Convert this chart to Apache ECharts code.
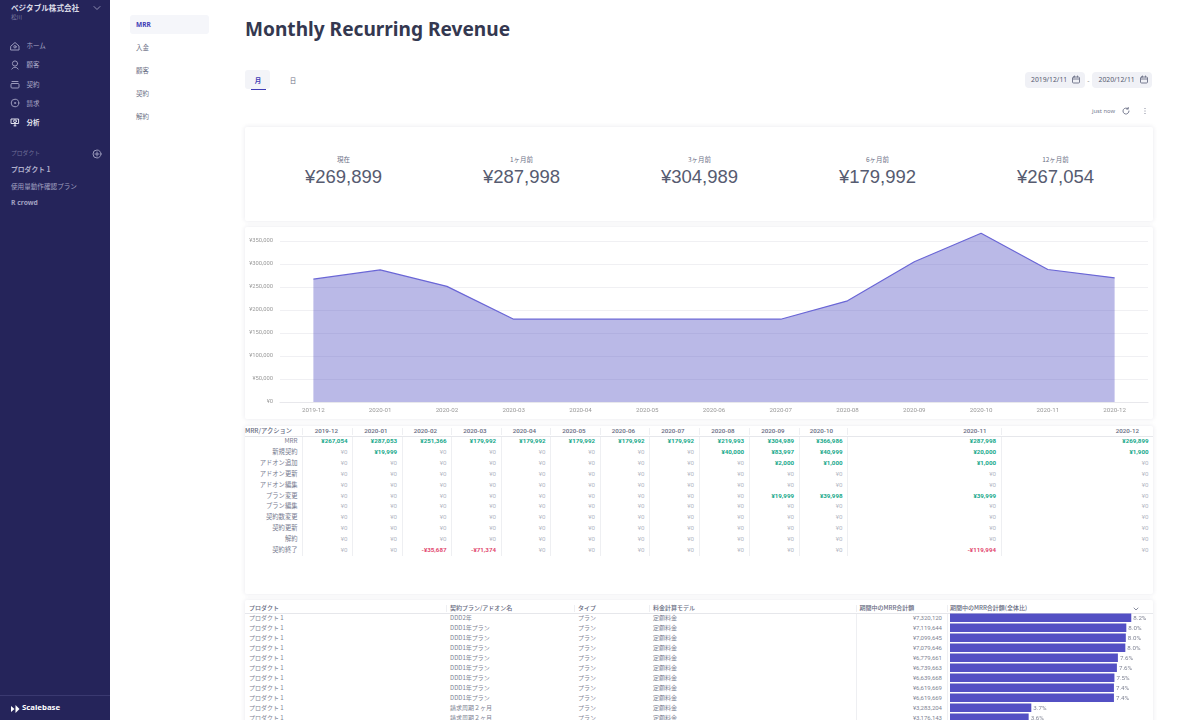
<!DOCTYPE html>
<html>
<head>
<meta charset="utf-8">
<title>Monthly Recurring Revenue</title>
<script src="https://cdn.jsdelivr.net/npm/echarts@6/dist/echarts.min.js"></script>
<style>
html, body { margin: 0; padding: 0; width: 1200px; height: 720px; overflow: hidden; background: #fff; font-family: "Noto Sans CJK JP", "Noto Sans", sans-serif; }
#page { position: relative; width: 1200px; height: 720px; overflow: hidden; }
#sidebar { position: absolute; left: 0; top: 0; width: 110px; height: 720px; background: #25245a; }
.card { position: absolute; left: 245px; width: 908px; background: #fff; border-radius: 2px; box-shadow: 0 0 5px rgba(40, 40, 80, .11); }
.t { position: absolute; white-space: nowrap; line-height: 1; transform: translateY(-50%); }
.r { transform: translate(-100%, -50%); }
.c { transform: translate(-50%, -50%); }
.vline { position: absolute; width: 1px; background: #eeeff2; }
.hline { position: absolute; height: 1px; background: #e6e7eb; }
.pill { position: absolute; top: 72px; width: 60px; height: 16px; border-radius: 4px; background: #f0f1f6; }
svg { position: absolute; overflow: visible; }
#mrrChart { position: absolute; left: 245px; top: 227px; width: 908px; height: 192px; }
#planChart { position: absolute; left: 947px; top: 612px; width: 206px; height: 112px; }
</style>
</head>
<body>
<div id="page">
  <div id="sidebar"></div>
  <div class="card" style="top:127px;height:94px"></div>
  <div class="card" style="top:227px;height:192px"></div>
  <div class="card" style="top:426px;height:168px"></div>
  <div class="card" style="top:600px;height:130px"></div>
  <div id="main"></div>
  <div id="mrrChart"></div>
  <div id="tables"></div>
  <div id="planChart"></div>
</div>
<script>
var months = ['2019-12','2020-01','2020-02','2020-03','2020-04','2020-05','2020-06','2020-07','2020-08','2020-09','2020-10','2020-11','2020-12'];
var mrr = [267054,287053,251366,179992,179992,179992,179992,179992,219993,304989,366986,287998,269899];
var newContract = [0,19999,0,0,0,0,0,0,40000,83997,40999,20000,1900];
var addonAdd = [0,0,0,0,0,0,0,0,0,2000,1000,1000,0];
var planChange = [0,0,0,0,0,0,0,0,0,19999,39998,39999,0];
var contractEnd = [0,0,-35687,-71374,0,0,0,0,0,0,0,-119994,0];
var zeros = [0,0,0,0,0,0,0,0,0,0,0,0,0];
var actionNames = ['MRR','新規契約','アドオン追加','アドオン更新','アドオン編集','プラン変更','プラン編集','契約数変更','契約更新','解約','契約終了'];
var actionValues = [mrr,newContract,addonAdd,zeros,zeros,planChange,zeros,zeros,zeros,zeros,contractEnd];
var yTicks = [0,50000,100000,150000,200000,250000,300000,350000];

var kpiLabels = ['現在','1ヶ月前','3ヶ月前','6ヶ月前','12ヶ月前'];
var kpiValues = ['¥269,899','¥287,998','¥304,989','¥179,992','¥267,054'];

var planNames = ['DDD2年','DDD1年プラン','DDD1年プラン','DDD1年プラン','DDD1年プラン','DDD1年プラン','DDD1年プラン','DDD1年プラン','DDD1年プラン','請求周期２ヶ月','請求周期２ヶ月'];
var planTotals = [7320120,7119644,7099645,7079646,6779661,6739663,6639668,6619669,6619669,3283204,3176143];
var planShares = ['8.2%','8.0%','8.0%','8.0%','7.6%','7.6%','7.5%','7.4%','7.4%','3.7%','3.6%'];

function text(parent, x, y, str, size, color, opts) {
    opts = opts || {};
    var el = document.createElement('div');
    el.className = 't' + (opts.align ? ' ' + opts.align : '');
    el.style.left = x + 'px';
    el.style.top = y + 'px';
    el.style.fontSize = size + 'px';
    el.style.color = color;
    if (opts.weight) el.style.fontWeight = opts.weight;
    if (opts.font) el.style.fontFamily = opts.font;
    el.textContent = str;
    parent.appendChild(el);
}

function line(parent, cls, x, y, len, thick) {
    var el = document.createElement('div');
    el.className = cls;
    el.style.left = x + 'px';
    el.style.top = y + 'px';
    if (cls === 'vline') el.style.height = len + 'px';
    else { el.style.width = len + 'px'; if (thick) el.style.height = thick + 'px'; }
    parent.appendChild(el);
}

function icon(parent, x, y, inner, stroke) {
    var s = document.createElementNS('http://www.w3.org/2000/svg', 'svg');
    s.setAttribute('width', 12);
    s.setAttribute('height', 12);
    s.style.left = (x - 6) + 'px';
    s.style.top = (y - 6) + 'px';
    s.innerHTML = '<g fill="none" stroke="' + stroke + '" stroke-width="1" stroke-linecap="round" stroke-linejoin="round">' + inner + '</g>';
    parent.appendChild(s);
}

function yen(v) {
    return (v < 0 ? '-¥' : '¥') + Math.abs(v).toLocaleString('en-US');
}

/* サイドバー */
var side = document.getElementById('sidebar');
text(side, 11, 8, 'ベジタブル株式会社', 7.6, '#dcdce8', { weight: 700 });
text(side, 11, 18, '松川', 5.5, '#8483a8');
icon(side, 97, 8, '<path d="M3 4.5 L6 7.5 L9 4.5"/>', '#8f8eb2');
var navItems = [['ホーム', 45], ['顧客', 64], ['契約', 83.5], ['請求', 102.5], ['分析', 121.5]];
var navIcons = [
    '<path d="M2 6 L6 2.5 L10 6 V10 H2 Z"/><circle cx="6" cy="6.8" r="1.2"/>',
    '<circle cx="6" cy="4.5" r="2.6"/><path d="M2.8 10 Q6 6 9.2 10"/>',
    '<rect x="2" y="5.5" width="8" height="4.5" rx="1"/><path d="M3 3.5 H9"/>',
    '<circle cx="6" cy="6" r="3.8"/><circle cx="6" cy="6" r=".6"/>',
    '<path d="M2.4 3 H9.6 V7.5 H2.4 Z"/><circle cx="6" cy="5.2" r="1.4"/><path d="M5 9.8 H7 M6 7.5 V9.8"/>'
];
navItems.forEach(function (item, i) {
    var on = i === 4;
    icon(side, 15, item[1] + 0.5, navIcons[i], on ? '#e0e0ec' : '#9a99bb');
    text(side, 26.5, item[1], item[0], 6.5, on ? '#e6e6f0' : '#a9a8c6', { weight: on ? 700 : 400 });
});
text(side, 11, 153, 'プロダクト', 5.8, '#6f6e98');
icon(side, 97, 153.5, '<circle cx="6" cy="6" r="4"/><path d="M4 6 H8 M6 4 V8"/>', '#9a99bb');
text(side, 11, 168.5, 'プロダクト 1', 6.8, '#b0afcb', { weight: 700 });
text(side, 11, 185.5, '使用量動作確認プラン', 6.6, '#a0a0c0');
text(side, 11, 203, 'R crowd', 6.8, '#a0a0c0', { weight: 700, font: '"Noto Sans", sans-serif' });
line(side, 'hline', 0, 695, 110);
side.lastChild.style.background = '#3a3970';
icon(side, 15.5, 707.5, '<path d="M1 4 L4.5 7 L1 10 Z M5.5 3 L9.5 7 L5.5 11 Z" fill="#fff" stroke="none"/>', '#fff');
text(side, 22, 707.5, 'Scalebase', 7.8, '#ffffff', { weight: 700, font: '"Noto Sans", sans-serif' });

/* サブナビ・ヘッダー */
var main = document.getElementById('main');
main.innerHTML = '<div style="position:absolute;left:130px;top:15px;width:79px;height:19px;border-radius:3px;background:#f5f6fa"></div>'
    + '<div style="position:absolute;left:245px;top:70px;width:25px;height:19px;border-radius:3px;background:#f3f4f8"></div>'
    + '<div style="position:absolute;left:251px;top:88.5px;width:15px;height:1.5px;background:#3f3cb5"></div>'
    + '<div class="pill" style="left:1025px"></div><div class="pill" style="left:1092px"></div>';
text(main, 136, 24.5, 'MRR', 6.5, '#3f3cb5', { weight: 700, font: '"Noto Sans", sans-serif' });
[['入金', 47], ['顧客', 70], ['契約', 93], ['解約', 116]].forEach(function (item) {
    text(main, 136, item[1], item[0], 6.5, '#6c7086');
});
text(main, 245, 29.5, 'Monthly Recurring Revenue', 19.1, '#343850', { weight: 700, font: '"Noto Sans", sans-serif' });
text(main, 258, 79.5, '月', 6.5, '#3f3cb5', { align: 'c', weight: 700 });
text(main, 293, 79.5, '日', 6.5, '#6c7086', { align: 'c' });
text(main, 1031, 80, '2019/12/11', 6.8, '#565a70', { font: '"Noto Sans", sans-serif' });
text(main, 1098.5, 80, '2020/12/11', 6.8, '#565a70', { font: '"Noto Sans", sans-serif' });
text(main, 1088.5, 80, '-', 6.5, '#777', { align: 'c' });
var calendar = '<rect x="2.5" y="3" width="7" height="6" rx="1"/><path d="M2.5 5 H9.5 M4.5 2 V3 M7.5 2 V3"/>';
icon(main, 1076, 79.5, calendar, '#777b90');
icon(main, 1143.5, 79.5, calendar, '#777b90');
text(main, 1115, 111.5, 'just now', 5.8, '#777b90', { align: 'r', font: '"Noto Sans", sans-serif' });
icon(main, 1125.5, 111, '<path d="M9 6 A3 3 0 1 1 8 3.8 M8.2 2.4 V4 H6.6"/>', '#777b90');
icon(main, 1145, 111, '<path d="M6 3.5 V3.6 M6 6 V6.1 M6 8.5 V8.6"/>', '#777b90');

/* KPI */
kpiLabels.forEach(function (label, i) {
    var cx = 343.5 + i * 178;
    text(main, cx, 159, label, 6.5, '#6c7086', { align: 'c' });
    text(main, cx, 177, kpiValues[i], 18.5, '#565b70', { align: 'c', font: '"Liberation Sans", sans-serif' });
});

/* MRRテーブル */
var tables = document.getElementById('tables');
var colEdges = [302,352,401.5,451,500.5,550,599.5,649,698.5,748.5,798.5,847,1000.5,1153];
text(tables, 245, 430.7, 'MRR/アクション', 6.3, '#666a80', { weight: 500 });
line(tables, 'hline', 245, 436, 908, 1);
months.forEach(function (m, i) {
    text(tables, colEdges[i + 1] - 14, 430.7, m, 6.2, '#666a80', { align: 'r', weight: 500, font: 'Roboto, sans-serif' });
    line(tables, 'vline', colEdges[i], 427.5, 7);
    line(tables, 'vline', colEdges[i], 437, 118.5);
});
actionNames.forEach(function (name, r) {
    var y = 441 + r * 10.9;
    text(tables, 297.5, y, name, 6.3, '#777b90', { align: 'r' });
    actionValues[r].forEach(function (v, i) {
        var color = v > 0 ? '#16a88a' : (v < 0 ? '#e2496f' : '#b4b7c4');
        text(tables, colEdges[i + 1] - 4.5, y, yen(v), 6.2, color, { align: 'r', weight: v !== 0 ? 700 : 400, font: 'Roboto, sans-serif' });
    });
});

/* プランテーブル */
var planHeads = [[249, 'プロダクト'], [450, '契約プラン/アドオン名'], [578, 'タイプ'], [653, '料金計算モデル'], [859.5, '期間中のMRR合計額'], [950, '期間中のMRR合計額(全体比)']];
planHeads.forEach(function (h) {
    text(tables, h[0], 607.5, h[1], 6, '#666a80', { weight: 500 });
});
[445.5, 574, 649, 855.5, 946.5].forEach(function (x) {
    line(tables, 'vline', x, 605, 7);
    if (x === 855.5 || x === 946.5) line(tables, 'vline', x, 613, 107);
});
line(tables, 'hline', 245, 612.5, 908, 1);
icon(tables, 1136, 608.5, '<path d="M4 5 L6 7 L8 5"/>', '#8a8ea0');
planNames.forEach(function (name, r) {
    var y = 617.7 + r * 10;
    text(tables, 249, y, 'プロダクト 1', 6, '#808494');
    text(tables, 450, y, name, 6, '#808494');
    text(tables, 578, y, 'プラン', 6, '#808494');
    text(tables, 653, y, '定額料金', 6, '#808494');
    text(tables, 942, y, yen(planTotals[r]), 6, '#808494', { align: 'r', font: 'Roboto, sans-serif' });
});

/* MRR推移 */
var mrrChart = echarts.init(document.getElementById('mrrChart'));
mrrChart.setOption({
    animation: false,
    grid: { left: 35, right: 5, top: 14, bottom: 17 },
    xAxis: {
        type: 'category',
        data: months,
        boundaryGap: true,
        axisTick: { show: false },
        axisLine: { lineStyle: { color: '#e8e8ec', width: 1 } },
        axisLabel: { fontFamily: 'Roboto', fontSize: 6.2, color: '#999', margin: 5, interval: 0 }
    },
    yAxis: {
        type: 'value',
        min: yTicks[0],
        max: yTicks[yTicks.length - 1],
        interval: yTicks[1] - yTicks[0],
        axisLine: { show: false },
        axisTick: { show: false },
        splitLine: { lineStyle: { color: '#f0f0f3', width: 1 } },
        axisLabel: {
            fontFamily: 'Roboto',
            fontSize: 5.8,
            color: '#999',
            margin: 7,
            padding: [2, 0, 0, 0],
            formatter: function (v) { return yen(v); }
        }
    },
    series: [{
        type: 'line',
        data: mrr,
        clip: false,
        symbol: 'none',
        smooth: false,
        lineStyle: { color: '#6a66d6', width: 1.2 },
        areaStyle: { color: '#5350c4', opacity: 0.4 }
    }]
});

/* プラン別バー */
var planChart = echarts.init(document.getElementById('planChart'));
planChart.setOption({
    animation: false,
    grid: { left: 3, right: 3, top: 0.7, bottom: 1.3 },
    xAxis: { type: 'value', min: 0, max: 8076000, show: false },
    yAxis: {
        type: 'category',
        inverse: true,
        data: planNames.map(function (n, i) { return i; }),
        show: false
    },
    series: [{
        type: 'bar',
        data: planTotals,
        barWidth: 8.4,
        itemStyle: { color: '#5350c4' },
        label: {
            show: true,
            position: 'right',
            distance: 2,
            fontFamily: 'Roboto',
            fontSize: 6.2,
            color: '#808494',
            offset: [0, 1],
            formatter: function (p) { return planShares[p.dataIndex]; }
        }
    }]
});
</script>
</body>
</html>
